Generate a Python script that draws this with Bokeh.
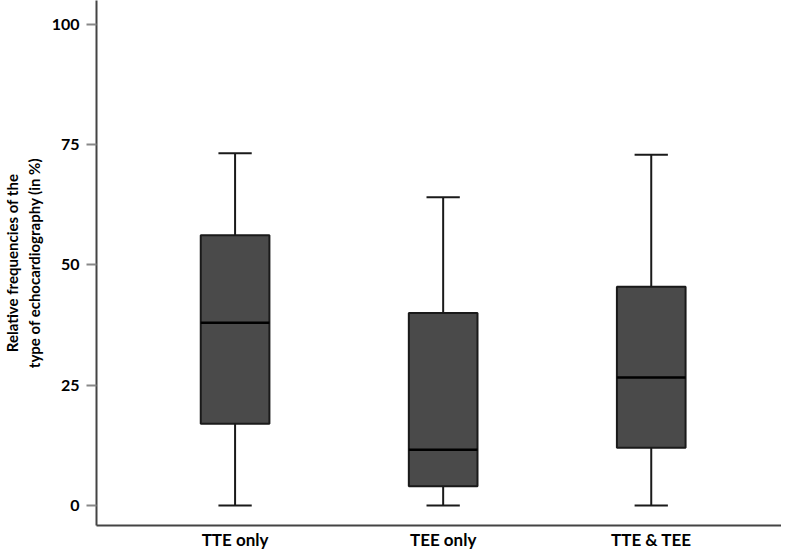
from bokeh.plotting import figure
from bokeh.models import Range1d, FixedTicker
from bokeh.embed import file_html
from bokeh.resources import INLINE

categories = ["TTE only", "TEE only", "TTE & TEE"]
positions = [1, 2, 3]
whisker_low = [0.0, 0.0, 0.0]
q1 = [17.0, 4.0, 12.0]
median = [38.0, 11.6, 26.6]
q3 = [56.2, 40.0, 45.5]
whisker_high = [73.2, 64.1, 72.9]
y_ticks = [0, 25, 50, 75, 100]

box_width = 0.33
cap_half = 0.08

p = figure(width=781, height=552, output_backend="svg", toolbar_location=None,
           x_range=Range1d(0.334, 3.626), y_range=Range1d(-4.13, 104.96))
p.min_border_left = 84
p.min_border_right = 0
p.min_border_top = 0
p.min_border_bottom = 24
p.outline_line_color = None
p.xgrid.grid_line_color = None
p.ygrid.grid_line_color = None
p.background_fill_color = "white"
p.border_fill_color = "white"

# whiskers
p.segment(x0=positions, y0=whisker_low, x1=positions, y1=q1, line_color="#1a1a1a", line_width=2)
p.segment(x0=positions, y0=q3, x1=positions, y1=whisker_high, line_color="#1a1a1a", line_width=2)
cap_x0 = [x - cap_half for x in positions]
cap_x1 = [x + cap_half for x in positions]
p.segment(x0=cap_x0, y0=whisker_low, x1=cap_x1, y1=whisker_low, line_color="#1a1a1a", line_width=2)
p.segment(x0=cap_x0, y0=whisker_high, x1=cap_x1, y1=whisker_high, line_color="#1a1a1a", line_width=2)

# boxes
p.vbar(x=positions, width=box_width, bottom=q1, top=q3, fill_color="#4a4a4a",
       line_color="#1a1a1a", line_width=2)
med_x0 = [x - box_width / 2 for x in positions]
med_x1 = [x + box_width / 2 for x in positions]
p.segment(x0=med_x0, y0=median, x1=med_x1, y1=median, line_color="#000000", line_width=2.5)

font = "Lato"

p.xaxis.ticker = FixedTicker(ticks=positions)
p.xaxis.major_label_overrides = {pos: lab for pos, lab in zip(positions, categories)}
p.xaxis.major_tick_line_color = None
p.xaxis.major_tick_out = 0
p.xaxis.major_tick_in = 0
p.xaxis.minor_tick_line_color = None
p.xaxis.axis_line_color = "#444444"
p.xaxis.axis_line_width = 2
p.xaxis.major_label_text_font = font
p.xaxis.major_label_text_font_style = "bold"
p.xaxis.major_label_text_font_size = "17px"
p.xaxis.major_label_text_color = "#000000"
p.xaxis.major_label_standoff = 3

p.yaxis.ticker = FixedTicker(ticks=y_ticks)
p.yaxis.minor_tick_line_color = None
p.yaxis.major_tick_in = 0
p.yaxis.major_tick_out = 10
p.yaxis.major_tick_line_color = "#888888"
p.yaxis.major_tick_line_width = 2
p.yaxis.axis_line_color = "#444444"
p.yaxis.axis_line_width = 2
p.yaxis.major_label_text_font = font
p.yaxis.major_label_text_font_style = "bold"
p.yaxis.major_label_text_font_size = "16px"
p.yaxis.major_label_text_color = "#000000"
p.yaxis.major_label_standoff = 7
p.yaxis.axis_label = "Relative frequencies of the\ntype of echocardiography (in %)"
p.yaxis.axis_label_text_font = font
p.yaxis.axis_label_text_font_style = "bold"
p.yaxis.axis_label_text_font_size = "15px"
p.yaxis.axis_label_text_color = "#000000"
p.yaxis.axis_label_standoff = 6

open("out.html", "w").write(file_html(p, INLINE))
